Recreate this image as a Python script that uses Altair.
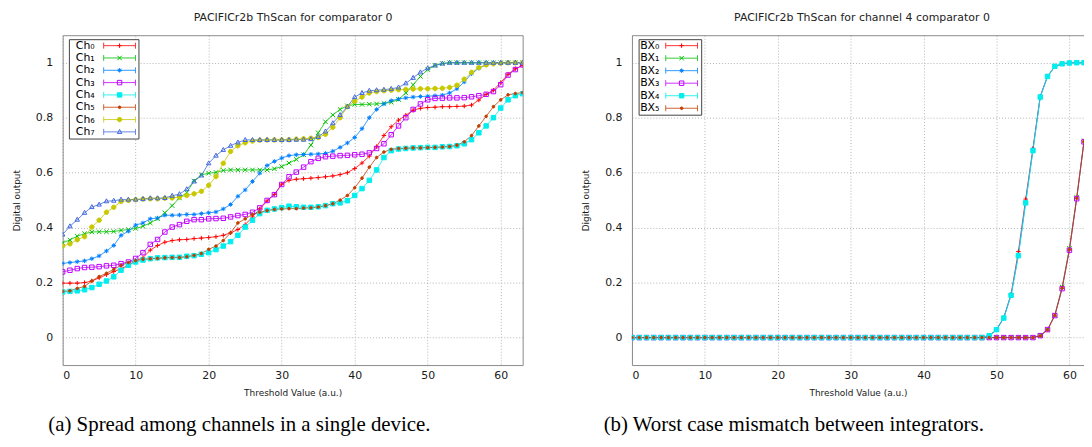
import altair as alt
import pandas as pd

threshold = list(range(64))

# ---------------- panel (a): 8 channels ----------------
ch_names = ["Ch₀", "Ch₁", "Ch₂", "Ch₃", "Ch₄", "Ch₅", "Ch₆", "Ch₇"]
ch_marks = ["m0", "m1", "m2", "m3", "m4", "m5", "m6", "m7"]

ch0_y = [0.198, 0.198, 0.198, 0.200, 0.206, 0.217, 0.229, 0.240, 0.251, 0.263, 0.279, 0.291, 0.318, 0.335, 0.347, 0.353,
         0.356, 0.357, 0.360, 0.362, 0.364, 0.367, 0.372, 0.381, 0.393, 0.411, 0.439, 0.468, 0.497, 0.521, 0.558,
         0.572, 0.576, 0.578, 0.580, 0.582, 0.585, 0.588, 0.593, 0.600, 0.615, 0.635, 0.660, 0.695, 0.735, 0.767,
         0.791, 0.809, 0.827, 0.834, 0.837, 0.838, 0.840, 0.840, 0.841, 0.842, 0.846, 0.864, 0.885, 0.900, 0.928,
         0.958, 0.978, 0.990]
ch1_y = [0.345, 0.355, 0.369, 0.378, 0.384, 0.385, 0.385, 0.386, 0.390, 0.393, 0.397, 0.405, 0.417, 0.432, 0.454, 0.480,
         0.508, 0.528, 0.570, 0.592, 0.598, 0.601, 0.608, 0.610, 0.610, 0.610, 0.610, 0.610, 0.610, 0.614, 0.622,
         0.635, 0.648, 0.665, 0.700, 0.745, 0.785, 0.810, 0.830, 0.843, 0.848, 0.848, 0.849, 0.850, 0.852, 0.856,
         0.866, 0.890, 0.920, 0.950, 0.975, 0.990, 0.997, 1.0, 1.0, 1.0, 1.0, 1.0, 1.0, 1.0, 1.0, 1.0, 1.0, 1.0]
ch2_y = [0.270, 0.273, 0.276, 0.279, 0.287, 0.297, 0.315, 0.335, 0.372, 0.387, 0.409, 0.417, 0.432, 0.435, 0.445, 0.445,
         0.446, 0.448, 0.448, 0.451, 0.454, 0.457, 0.468, 0.484, 0.514, 0.537, 0.568, 0.598, 0.626, 0.641, 0.653,
         0.662, 0.665, 0.666, 0.667, 0.668, 0.670, 0.678, 0.692, 0.708, 0.728, 0.760, 0.800, 0.830, 0.850, 0.862,
         0.868, 0.872, 0.875, 0.877, 0.878, 0.880, 0.882, 0.890, 0.905, 0.930, 0.960, 0.980, 0.993, 0.998, 1.0,
         1.0, 1.0, 1.0]
ch3_y = [0.239, 0.245, 0.251, 0.255, 0.256, 0.258, 0.261, 0.263, 0.269, 0.275, 0.288, 0.309, 0.339, 0.357, 0.384, 0.402,
         0.411, 0.423, 0.429, 0.429, 0.432, 0.433, 0.434, 0.439, 0.444, 0.448, 0.456, 0.472, 0.499, 0.520, 0.557,
         0.585, 0.602, 0.620, 0.640, 0.652, 0.658, 0.660, 0.662, 0.663, 0.665, 0.667, 0.672, 0.688, 0.705, 0.738,
         0.770, 0.800, 0.830, 0.850, 0.865, 0.870, 0.871, 0.872, 0.872, 0.873, 0.876, 0.880, 0.885, 0.895, 0.920,
         0.955, 0.975, 0.992]
ch4_y = [0.166, 0.168, 0.170, 0.174, 0.182, 0.194, 0.206, 0.221, 0.245, 0.263, 0.275, 0.282, 0.287, 0.290, 0.291, 0.292,
         0.292, 0.296, 0.298, 0.303, 0.309, 0.320, 0.333, 0.349, 0.372, 0.402, 0.427, 0.451, 0.463, 0.468, 0.473,
         0.478, 0.476, 0.474, 0.474, 0.476, 0.480, 0.487, 0.490, 0.498, 0.517, 0.542, 0.572, 0.610, 0.655, 0.680,
         0.686, 0.688, 0.690, 0.691, 0.692, 0.692, 0.694, 0.695, 0.698, 0.705, 0.720, 0.745, 0.770, 0.800, 0.835,
         0.865, 0.880, 0.887]
ch5_y = [0.168, 0.170, 0.179, 0.186, 0.206, 0.222, 0.234, 0.248, 0.263, 0.273, 0.280, 0.285, 0.287, 0.288, 0.290, 0.291,
         0.291, 0.294, 0.299, 0.306, 0.321, 0.333, 0.353, 0.381, 0.417, 0.432, 0.448, 0.456, 0.462, 0.466, 0.468,
         0.469, 0.469, 0.471, 0.472, 0.475, 0.480, 0.487, 0.500, 0.517, 0.545, 0.580, 0.620, 0.655, 0.675, 0.685,
         0.688, 0.689, 0.690, 0.690, 0.691, 0.692, 0.693, 0.695, 0.700, 0.712, 0.735, 0.770, 0.805, 0.840, 0.865,
         0.883, 0.888, 0.891]
ch6_y = [0.333, 0.341, 0.356, 0.367, 0.402, 0.427, 0.456, 0.474, 0.495, 0.499, 0.502, 0.504, 0.505, 0.505, 0.507, 0.508,
         0.511, 0.517, 0.523, 0.532, 0.554, 0.586, 0.634, 0.677, 0.698, 0.709, 0.715, 0.718, 0.719, 0.719, 0.719,
         0.720, 0.722, 0.723, 0.725, 0.728, 0.740, 0.765, 0.800, 0.840, 0.860, 0.875, 0.890, 0.895, 0.898, 0.900,
         0.902, 0.903, 0.904, 0.905, 0.905, 0.906, 0.907, 0.910, 0.918, 0.940, 0.965, 0.982, 0.992, 0.996, 0.998,
         1.0, 1.0, 1.0]
ch7_y = [0.375, 0.405, 0.429, 0.454, 0.475, 0.484, 0.496, 0.498, 0.502, 0.502, 0.502, 0.504, 0.507, 0.507, 0.508, 0.516,
         0.522, 0.540, 0.568, 0.590, 0.634, 0.662, 0.683, 0.698, 0.710, 0.719, 0.719, 0.719, 0.719, 0.719, 0.719,
         0.719, 0.720, 0.720, 0.722, 0.730, 0.750, 0.780, 0.810, 0.840, 0.875, 0.890, 0.898, 0.900, 0.902, 0.905,
         0.910, 0.925, 0.945, 0.965, 0.980, 0.990, 0.997, 1.0, 1.0, 1.0, 1.0, 1.0, 1.0, 1.0, 1.0, 1.0, 1.0, 1.0]
ch_series = [ch0_y, ch1_y, ch2_y, ch3_y, ch4_y, ch5_y, ch6_y, ch7_y]

# ---------------- panel (b): 6 integrators ----------------
bx_names = ["BX₀", "BX₁", "BX₂", "BX₃", "BX₄", "BX₅"]
bx_marks = ["n0", "n1", "n2", "n3", "n4", "n5"]
bx0_y = [0.0] * 49 + [0.007, 0.029, 0.073, 0.158, 0.313, 0.504, 0.688, 0.878, 0.951, 0.986, 0.996, 1.0, 1.0, 1.0, 1.0]
bx2_y = [0.0] * 49 + [0.006, 0.028, 0.072, 0.155, 0.300, 0.492, 0.684, 0.876, 0.950, 0.986, 0.996, 0.999, 1.0, 1.0, 1.0]
bx4_y = [0.0] * 49 + [0.007, 0.029, 0.071, 0.154, 0.298, 0.490, 0.680, 0.875, 0.950, 0.987, 0.996, 0.999, 1.0, 1.0, 1.0]
bx1_y = [0.0] * 56 + [0.007, 0.029, 0.082, 0.184, 0.325, 0.510, 0.716, 0.870]
bx3_y = [0.0] * 56 + [0.007, 0.029, 0.080, 0.178, 0.318, 0.505, 0.712, 0.868]
bx5_y = [0.0] * 56 + [0.006, 0.028, 0.081, 0.180, 0.320, 0.507, 0.714, 0.869]
bx_series = [bx0_y, bx1_y, bx2_y, bx3_y, bx4_y, bx5_y]

# ---------------- styles ----------------
colors = ["#ff0000", "#00c000", "#0080ff", "#c000ff", "#00eeee", "#c04000", "#c8c800", "#4169e1"]
PLUS = "M-1,0L1,0M0,-1L0,1"
CROSS = "M-1,-1L1,1M-1,1L1,-1"
STAR = "M-1,0L1,0M0,-1L0,1M-0.7,-0.7L0.7,0.7M-0.7,0.7L0.7,-0.7"
SQUARE = "M-1,-1L1,-1L1,1L-1,1Z"
DOT = "M0.6,0A0.6,0.6,0,1,1,-0.6,0A0.6,0.6,0,1,1,0.6,0Z"
CIRCLE = "M1,0A1,1,0,1,1,-1,0A1,1,0,1,1,1,0Z"
TRIANGLE = "M0,-1.1L1,0.7L-1,0.7Z"
shapes = [PLUS, CROSS, STAR, SQUARE, SQUARE, DOT, CIRCLE, TRIANGLE]
fills = ["transparent", "transparent", "transparent", "transparent", colors[4], colors[5], colors[6], "transparent"]

FONT = "DejaVu Sans"
GRID = "#b4b4b4"
BORDER = "#8a8a8a"
MARK_SIZE = 20


def errbar_path(shift_px):
    # legend key: a horizontal error-bar segment drawn to the right of the label
    u = 5.0  # path unit in px for symbolSize 100
    a = (shift_px - 16) / u
    b = (shift_px + 16) / u
    return f"M{a:.2f},0L{b:.2f},0M{a:.2f},-0.6L{a:.2f},0.6M{b:.2f},-0.6L{b:.2f},0.6"


def make_df(names, marks, series):
    rows = []
    for n, m, ys in zip(names, marks, series):
        for x, y in zip(threshold, ys):
            rows.append({"x": x, "y": y, "ser": n, "mk": m})
    return pd.DataFrame(rows)


def panel(df, names, marks, n, xmax, width, top_title, title_x, caption, cap_dx, leg_x, label_end,
          sym_center, row_pad, right_border):
    xscale = alt.Scale(domain=[0, xmax], nice=False, zero=False)
    yscale = alt.Scale(domain=[-0.1, 1.1], nice=False, zero=False)
    shift = sym_center - 5.5
    leg1 = alt.Legend(orient="none", legendX=leg_x, legendY=4, title=None, padding=1, rowPadding=row_pad,
                      labelFont=FONT, labelFontSize=11, labelColor="black", labelAlign="right",
                      labelOffset=label_end - 11, symbolOffset=0, symbolType=errbar_path(shift),
                      symbolSize=100, symbolStrokeWidth=1,
                      strokeColor="#444444", fillColor="white", cornerRadius=0)
    leg2 = alt.Legend(orient="none", legendX=leg_x, legendY=4, title=None, padding=1, rowPadding=row_pad,
                      labelFont=FONT, labelFontSize=11, labelOpacity=0, labelOffset=0,
                      symbolOffset=shift, symbolSize=MARK_SIZE, symbolStrokeWidth=1)
    base = alt.Chart(df)
    lines = base.mark_line(strokeWidth=1, opacity=0.8, clip=True).encode(
        x=alt.X("x:Q", scale=xscale, axis=alt.Axis(
            values=[0, 10, 20, 30, 40, 50, 60], title="Threshold Value (a.u.)", grid=True,
            gridColor=GRID, gridDash=[1, 2], gridWidth=1, ticks=False, tickSize=0, labelPadding=5,
            labelFont=FONT, labelFontSize=11, labelColor="#1a1a1a", titleFont=FONT, titleFontSize=9,
            titleFontWeight="normal", titleColor="#1a1a1a", titlePadding=8,
            domainColor=BORDER, domainWidth=1)),
        y=alt.Y("y:Q", scale=yscale, axis=alt.Axis(
            values=[0, 0.2, 0.4, 0.6, 0.8, 1], format="~g", title="Digital output", grid=True,
            gridColor=GRID, gridDash=[1, 2], gridWidth=1, ticks=False, tickSize=0, labelPadding=10,
            labelFont=FONT, labelFontSize=11, labelColor="#1a1a1a", titleFont=FONT, titleFontSize=9,
            titleFontWeight="normal", titleColor="#1a1a1a", titlePadding=14,
            domainColor=BORDER, domainWidth=1)),
        color=alt.Color("ser:N", scale=alt.Scale(domain=names, range=colors[:n]), legend=leg1),
    )
    top_axis = alt.Axis(orient="top", labels=False, ticks=False, tickSize=0, grid=False,
                        domainColor=BORDER, domainWidth=1, title=top_title, titleFont=FONT,
                        titleFontSize=11, titleFontWeight="normal", titleColor="#222222",
                        titlePadding=13, titleX=title_x)
    if right_border:
        y2 = alt.Y("y:Q", scale=yscale, axis=alt.Axis(orient="right", labels=False, ticks=False,
                                                       tickSize=0, grid=False, domainColor=BORDER,
                                                       domainWidth=1, title=None))
    else:
        y2 = alt.Y("y:Q", scale=yscale, axis=None)
    points = base.mark_point(size=MARK_SIZE, strokeWidth=1, opacity=1, clip=True).encode(
        x=alt.X("x:Q", scale=xscale, axis=top_axis),
        y=y2,
        stroke=alt.Stroke("mk:N", scale=alt.Scale(domain=marks, range=colors[:n]), legend=leg2),
        fill=alt.Fill("mk:N", scale=alt.Scale(domain=marks, range=fills[:n]), legend=leg2),
        shape=alt.Shape("mk:N", scale=alt.Scale(domain=marks, range=shapes[:n]), legend=leg2),
    )
    return alt.layer(lines, points).resolve_axis(x="independent", y="independent").properties(
        width=width, height=332,
        title=alt.TitleParams(caption, orient="bottom", anchor="start", dx=cap_dx, offset=16,
                              font="Liberation Serif", fontSize=21, fontWeight="normal", color="black"),
    )


df_a = make_df(ch_names, ch_marks, ch_series)
df_b = make_df(bx_names, bx_marks, bx_series)

left = panel(df_a, ch_names, ch_marks, 8, 63, 463, "PACIFICr2b ThScan for comparator 0", 231.5,
             "(a) Spread among channels in a single device.", 36, 6.3, 25, 50, 0.4, True)
right = panel(df_b, bx_names, bx_marks, 6, 62, 455, "PACIFICr2b ThScan for channel 4 comparator 0", 231,
              "(b) Worst case mismatch between integrators.", 22, 6.7, 20, 42.3, 0.6, False)

chart = alt.hconcat(left, right, spacing=59).resolve_scale(
    color="independent", stroke="independent", fill="independent", shape="independent"
).properties(
    padding={"left": 4, "top": 2, "right": 0, "bottom": 0}
).configure_view(stroke=None)

chart.save("out.html", embed_options={"renderer": "svg", "actions": False})
